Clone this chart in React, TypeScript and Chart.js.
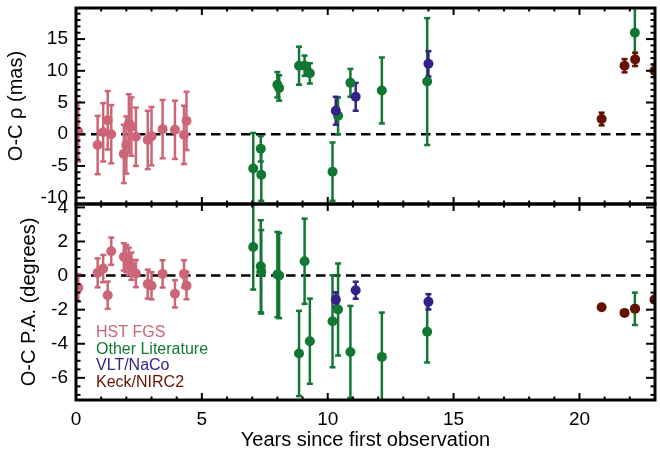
import { useEffect, useRef } from 'react';
import { Chart, registerables } from 'chart.js';

Chart.register(...registerables);

// ---------------- data ----------------
const HST_X = [0.09, 0.86, 1.08, 1.26, 1.40, 1.90, 2.00, 2.10, 2.20, 2.38, 2.85, 3.00, 3.44, 3.93, 4.29, 4.39];
const HST_RHO = [0.4, -1.7, 0.3, 2.2, 0.0, -3.1, -1.7, 1.7, 1.2, -0.4, -0.9, -0.3, 0.8, 0.7, -0.1, 2.1];
const HST_RHO_ERR = [4.7, 4.6, 4.6, 4.6, 4.6, 4.6, 4.5, 4.6, 4.6, 4.6, 4.6, 4.6, 4.6, 4.6, 4.6, 4.6];
const HST_PA = [-0.72, 0.16, 0.41, -1.15, 1.43, 1.1, 1.0, 0.84, 0.55, 0.12, -0.5, -0.6, 0.1, -1.07, 0.1, -0.59];
const HST_PA_ERR = [0.8, 0.85, 0.8, 0.8, 0.8, 0.8, 0.8, 0.8, 0.8, 0.8, 0.85, 0.8, 0.8, 0.8, 0.8, 0.8];

const LIT_X = [7.04, 7.34, 7.36, 8.0, 8.07, 8.86, 9.08, 9.29, 10.19, 10.41, 10.9, 12.15, 13.95, 22.2];
const LIT_RHO = [-5.4, -2.3, -6.4, 7.8, 7.3, 10.8, 10.8, 9.6, -5.9, 2.9, 8.1, 6.9, 8.3, 16.0];
const LIT_RHO_ERR = [5.6, 2.0, 4.1, 2.0, 2.0, 3.0, 1.6, 1.6, 4.6, 2.9, 2.2, 5.2, 10.0, 4.2];
const LIT_PA = [1.68, 0.55, 0.22, 0.06, 0.0, -4.57, 0.84, -3.85, -2.68, -1.99, -4.48, -4.77, -3.3, -1.95];
const LIT_PA_ERR = [2.5, 2.7, 2.45, 2.5, 2.5, 2.5, 2.5, 2.5, 2.7, 2.7, 2.7, 2.6, 1.8, 0.95];

const NACO_X = [10.32, 11.11, 14.0];
const NACO_RHO = [3.7, 5.9, 11.1];
const NACO_RHO_ERR = [2.2, 2.2, 2.0];
const NACO_PA = [-1.41, -0.86, -1.54];
const NACO_PA_ERR = [0.43, 0.5, 0.45];

const KECK_X = [20.88, 21.79, 22.21, 22.98];
const KECK_RHO = [2.4, 10.8, 11.8, 10.0];
const KECK_RHO_ERR = [1.0, 1.05, 1.05, 1.0];
const KECK_PA = [-1.86, -2.19, -1.95, -1.41];
const KECK_PA_ERR = [0, 0, 0, 0];

const LABELS = ['HST FGS', 'Other Literature', 'VLT/NaCo', 'Keck/NIRC2'];
const COLORS = ['#CC6677', '#117733', '#332288', '#661100'];

const X_TICKS = [0, 5, 10, 15, 20];
const RHO_TICKS = [-10, -5, 0, 5, 10, 15];
const PA_TICKS = [-6, -4, -2, 0, 2, 4];
const X_MIN = 0, X_MAX = 23, X_MINOR = 1;
const RHO_MIN = -11, RHO_MAX = 19.9, RHO_MINOR = 1;
const PA_MIN = -7.3, PA_MAX = 4.2, PA_MINOR = 0.5;

const X_TITLE = 'Years since first observation';
const RHO_TITLE = 'O-C \u03c1 (mas)';
const PA_TITLE = 'O-C P.A. (degrees)';

const FONT = "'Liberation Sans', Arial, Helvetica, sans-serif";

const SERIES = [
  { x: HST_X, rho: HST_RHO, rhoErr: HST_RHO_ERR, pa: HST_PA, paErr: HST_PA_ERR },
  { x: LIT_X, rho: LIT_RHO, rhoErr: LIT_RHO_ERR, pa: LIT_PA, paErr: LIT_PA_ERR },
  { x: NACO_X, rho: NACO_RHO, rhoErr: NACO_RHO_ERR, pa: NACO_PA, paErr: NACO_PA_ERR },
  { x: KECK_X, rho: KECK_RHO, rhoErr: KECK_RHO_ERR, pa: KECK_PA, paErr: KECK_PA_ERR },
];
const DRAW_ORDER = [2, 3, 1, 0]; // lower = drawn on top

function line(ctx: CanvasRenderingContext2D, x1: number, y1: number, x2: number, y2: number) {
  ctx.beginPath();
  ctx.moveTo(x1, y1);
  ctx.lineTo(x2, y2);
  ctx.stroke();
}

const paperPlugin = {
  id: 'paper',
  beforeDatasetsDraw(chart: any) {
    const ctx: CanvasRenderingContext2D = chart.ctx;
    const xs = chart.scales.x;
    // zero lines
    ['rho', 'pa'].forEach((id) => {
      const ys = chart.scales[id];
      const py = ys.getPixelForValue(0);
      ctx.save();
      ctx.strokeStyle = '#000';
      ctx.lineWidth = 2.5;
      ctx.setLineDash([9.5, 5.5]);
      line(ctx, xs.left, py, xs.right, py);
      ctx.restore();
    });
    // error bars
    chart.data.datasets.forEach((ds: any) => {
      const ys = chart.scales[ds.yAxisID];
      ctx.save();
      ctx.beginPath();
      ctx.rect(xs.left, ys.top, xs.right - xs.left, ys.bottom - ys.top);
      ctx.clip();
      ctx.strokeStyle = ds.backgroundColor;
      ctx.lineWidth = 2.5;
      ds.data.forEach((p: any, j: number) => {
        const e = ds.errors[j];
        if (!e) return;
        const px = xs.getPixelForValue(p.x);
        const top = ys.getPixelForValue(p.y + e);
        const bot = ys.getPixelForValue(p.y - e);
        line(ctx, px, top, px, bot);
        line(ctx, px - 3, top, px + 3, top);
        line(ctx, px - 3, bot, px + 3, bot);
      });
      ctx.restore();
    });
  },
  afterDraw(chart: any) {
    const ctx: CanvasRenderingContext2D = chart.ctx;
    const xs = chart.scales.x;
    const panels = [
      { ys: chart.scales.rho, major: RHO_TICKS, step: RHO_MINOR },
      { ys: chart.scales.pa, major: PA_TICKS, step: PA_MINOR },
    ];
    ctx.save();
    ctx.strokeStyle = '#000';
    panels.forEach(({ ys, major, step }) => {
      const L = xs.left, R = xs.right, T = ys.top, B = ys.bottom;
      ctx.lineWidth = 2;
      for (let i = Math.ceil(X_MIN / X_MINOR); i <= Math.floor(X_MAX / X_MINOR); i++) {
        const v = i * X_MINOR;
        const px = xs.getPixelForValue(v);
        const len = X_TICKS.includes(v) ? 7 : 3.5;
        line(ctx, px, B, px, B - len);
        line(ctx, px, T, px, T + len);
      }
      for (let i = Math.ceil(ys.min / step); i <= Math.floor(ys.max / step); i++) {
        const v = i * step;
        const py = ys.getPixelForValue(v);
        const len = major.includes(v) ? 9 : 4.5;
        line(ctx, L, py, L + len, py);
        line(ctx, R, py, R - len, py);
      }
      ctx.lineWidth = 3;
      ctx.strokeRect(L, T, R - L, B - T);
    });
    // legend (text only)
    const pa = chart.scales.pa;
    ctx.font = `16px ${FONT}`;
    ctx.textBaseline = 'alphabetic';
    ctx.textAlign = 'left';
    LABELS.forEach((lab, i) => {
      ctx.fillStyle = COLORS[i];
      ctx.fillText(lab, xs.left + 20, pa.top + 133 + i * 16.7);
    });
    ctx.restore();
  },
};

const fitY = (s: any) => { s.width = 76; s.paddingTop = 0; s.paddingBottom = 0; };
const fitX = (s: any) => { s.height = 55; s.paddingLeft = 0; s.paddingRight = 0; };

export default function App() {
  const ref = useRef<HTMLCanvasElement>(null);
  useEffect(() => {
    if (!ref.current) return;
    const datasets: any[] = [];
    SERIES.forEach((s, i) => {
      datasets.push({
        label: LABELS[i] + ' rho',
        yAxisID: 'rho',
        data: s.x.map((x, j) => ({ x, y: s.rho[j] })),
        errors: s.rhoErr,
        backgroundColor: COLORS[i],
        borderColor: COLORS[i],
        pointRadius: 5,
        pointBorderWidth: 0,
        order: DRAW_ORDER[i],
      });
      datasets.push({
        label: LABELS[i] + ' pa',
        yAxisID: 'pa',
        data: s.x.map((x, j) => ({ x, y: s.pa[j] })),
        errors: s.paErr,
        backgroundColor: COLORS[i],
        borderColor: COLORS[i],
        pointRadius: 5,
        pointBorderWidth: 0,
        order: DRAW_ORDER[i],
      });
    });
    const tickFont = { family: FONT, size: 19 };
    const titleFont = { family: FONT, size: 20 };
    const chart = new Chart(ref.current, {
      type: 'scatter',
      data: { datasets },
      plugins: [paperPlugin],
      options: {
        animation: false,
        responsive: false,
        devicePixelRatio: 1,
        layout: { padding: { top: 8, right: 3, left: 0, bottom: 0 } },
        plugins: { legend: { display: false }, tooltip: { enabled: false } },
        scales: {
          x: {
            type: 'linear',
            min: X_MIN,
            max: X_MAX,
            grid: { display: false, drawTicks: false },
            border: { display: false },
            afterBuildTicks: (s: any) => { s.ticks = X_TICKS.map((v) => ({ value: v })); },
            afterFit: fitX,
            ticks: { color: '#000', font: tickFont, padding: 8, maxRotation: 0, autoSkip: false },
            title: { display: true, text: X_TITLE, color: '#000', font: titleFont, padding: { top: 0, bottom: 3 } },
          },
          pa: {
            type: 'linear',
            position: 'left',
            stack: 'panels',
            stackWeight: 1,
            min: PA_MIN,
            max: PA_MAX,
            grid: { display: false, drawTicks: false },
            border: { display: false },
            afterBuildTicks: (s: any) => { s.ticks = PA_TICKS.map((v) => ({ value: v })); },
            afterFit: fitY,
            ticks: { color: '#000', font: tickFont, padding: 8, autoSkip: false },
            title: { display: true, text: PA_TITLE, color: '#000', font: titleFont, padding: { top: 17, bottom: 0 } },
          },
          rho: {
            type: 'linear',
            position: 'left',
            stack: 'panels',
            stackWeight: 1,
            min: RHO_MIN,
            max: RHO_MAX,
            grid: { display: false, drawTicks: false },
            border: { display: false },
            afterBuildTicks: (s: any) => { s.ticks = RHO_TICKS.map((v) => ({ value: v })); },
            afterFit: fitY,
            ticks: { color: '#000', font: tickFont, padding: 8, autoSkip: false },
            title: { display: true, text: RHO_TITLE, color: '#000', font: titleFont, padding: { top: 4, bottom: 0 } },
          },
        },
      } as any,
    });
    return () => chart.destroy();
  }, []);
  return (
    <div style={{ position: 'absolute', left: 0, top: 0, width: 660, height: 455, background: '#fff' }}>
      <canvas ref={ref} width={660} height={455} />
    </div>
  );
}
